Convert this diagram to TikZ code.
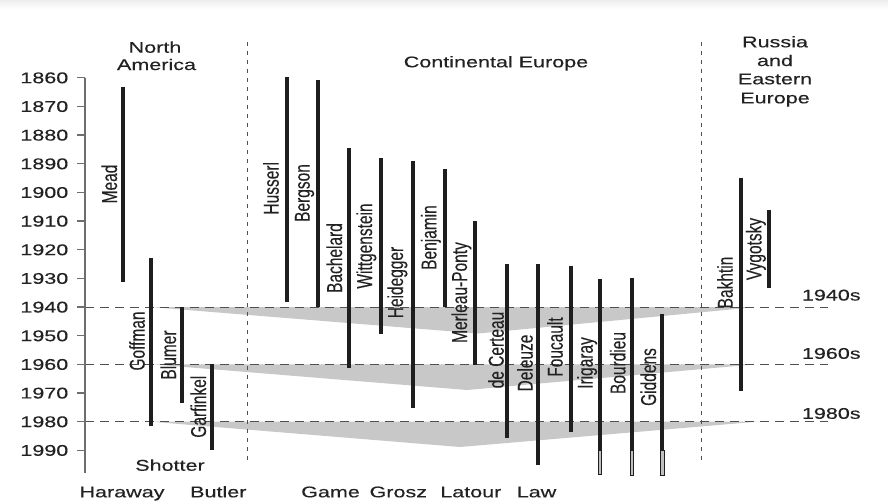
\documentclass[tikz,border=0pt]{standalone}
\usepackage{fontspec}
\setmainfont{Liberation Sans}
\newfontfamily\hfont[FakeStretch=1.39,FakeBold=0.25]{Liberation Sans}
\newfontfamily\vfont[FakeStretch=0.72,FakeBold=0.15]{Liberation Sans}
\definecolor{ink}{HTML}{1E1E1E}
\definecolor{txt}{HTML}{222222}
\definecolor{band}{RGB}{200,200,200}
\definecolor{axisc}{HTML}{6E6E6E}
\definecolor{dashc}{HTML}{505050}
\begin{document}
\begin{tikzpicture}[x=1pt,y=-1pt,
  hlab/.style={font=\hfont\fontsize{15.5}{18}\selectfont, text=txt, inner sep=0pt},
  vlab/.style={font=\vfont\fontsize{21.5}{24}\selectfont, text=txt, inner sep=0pt, rotate=90, anchor=base},
  life/.style={line width=4pt, draw=ink},
  open/.style={fill=gray!50, draw=ink, line width=0.9pt},
  decade/.style={draw=dashc, line width=0.8pt, dash pattern=on 9pt off 6pt},
  region/.style={draw=dashc, line width=0.9pt, dash pattern=on 4pt off 5pt},
  wedge/.style={fill=band, draw=none}]
% canvas
\fill[white] (0,0) rectangle (888,501);
\useasboundingbox (0,0) rectangle (888,501);
\shade[top color=gray!14, bottom color=white] (0,0) rectangle (888,9);

% grey bands
\fill[wedge] (150,307) -- (757,307) -- (478,333.5) -- cycle;
\fill[wedge] (152,364.3) -- (755,364.3) -- (467,390) -- cycle;
\fill[wedge] (150,421.6) -- (758,421.6) -- (460,447) -- cycle;

% decade lines
\draw[decade] (85,307) -- (828,307);
\draw[decade] (85,364.3) -- (828,364.3);
\draw[decade] (85,421.6) -- (828,421.6);

% region separators
\draw[region] (247,41.5) -- (247,463);
\draw[region] (701.7,41.5) -- (701.7,463);

% axis
\draw[axisc, line width=1.3pt] (85,77.7) -- (85,473);
\foreach \k in {0,...,13}{
  \pgfmathsetmacro{\yy}{77.7+28.66*\k}
  \pgfmathtruncatemacro{\yr}{1860+10*\k}
  \draw[axisc, line width=1.1pt] (77,\yy) -- (85,\yy);
  \node[hlab, anchor=base east] (y\yr) at (68.5,\yy+5.5) {\yr};
}

% life lines
\draw[life] (123.3,86.7) -- (123.3,281.7);
\draw[life] (151,257.7) -- (151,426);
\draw[life] (181.7,307) -- (181.7,403.3);
\draw[life] (211.7,364.3) -- (211.7,450);
\draw[life] (286.5,76.7) -- (286.5,301.7);
\draw[life] (317.7,80) -- (317.7,306.7);
\draw[life] (349.3,148.3) -- (349.3,368.3);
\draw[life] (380.7,158.3) -- (380.7,334);
\draw[life] (413.3,160.7) -- (413.3,408.3);
\draw[life] (445,168.6) -- (445,306.7);
\draw[life] (475,221.3) -- (475,365);
\draw[life] (506.7,264) -- (506.7,438.3);
\draw[life] (538,264) -- (538,465);
\draw[life] (570.5,265.7) -- (570.5,431.5);
\draw[life] (600,279.3) -- (600,450);
\draw[life] (632,277.7) -- (632,450);
\draw[life] (662.3,314.3) -- (662.3,450);
\draw[life] (741,177.5) -- (741,390.7);
\draw[life] (769.3,209.5) -- (769.3,288);
\filldraw[open] (598.2,450) rectangle (601.8,474.5);
\filldraw[open] (630.2,450) rectangle (633.8,475);
\filldraw[open] (660.5,450) rectangle (664.1,475);

% names
\node[vlab] (mead) at (117,184) {Mead};
\node[vlab] (goffman) at (144.7,341) {Goffman};
\node[vlab] (blumer) at (176,355) {Blumer};
\node[vlab] (garfinkel) at (206,406.7) {Garfinkel};
\node[vlab] (husserl) at (278.7,188.3) {Husserl};
\node[vlab] (bergson) at (309.7,193) {Bergson};
\node[vlab] (bachelard) at (342,258) {Bachelard};
\node[vlab] (wittgenstein) at (372,246) {Wittgenstein};
\node[vlab] (heidegger) at (403,282.5) {Heidegger};
\node[vlab] (benjamin) at (436.4,237.5) {Benjamin};
\node[vlab] (merleau) at (467,292.5) {Merleau-Ponty};
\node[vlab] (certeau) at (503.7,350) {de Certeau};
\node[vlab] (deleuze) at (532.7,363) {Deleuze};
\node[vlab] (foucault) at (562.7,347) {Foucault};
\node[vlab] (irigaray) at (592.7,363) {Irigaray};
\node[vlab] (bourdieu) at (625.4,363) {Bourdieu};
\node[vlab] (giddens) at (656,377) {Giddens};
\node[vlab] (bakhtin) at (732.7,282.5) {Bakhtin};
\node[vlab] (vygotsky) at (761.4,249) {Vygotsky};

% region titles
\node[hlab, anchor=base] (north) at (155,52.7) {North};
\node[hlab, anchor=base] (america) at (156.5,70) {America};
\node[hlab, anchor=base] (cont) at (496,67.3) {Continental Europe};
\node[hlab, anchor=base] (russia) at (775,47.3) {Russia};
\node[hlab, anchor=base] (and) at (775,66) {and};
\node[hlab, anchor=base] (eastern) at (775,84.3) {Eastern};
\node[hlab, anchor=base] (europe) at (775,103.3) {Europe};

% decade labels
\node[hlab, anchor=base west] (d1940) at (801.7,300.5) {1940s};
\node[hlab, anchor=base west] (d1960) at (801.7,358.8) {1960s};
\node[hlab, anchor=base west] (d1980) at (801.7,418.8) {1980s};

% bottom names
\node[hlab, anchor=base] (shotter) at (170,470.7) {Shotter};
\node[hlab, anchor=base] (haraway) at (122,497.3) {Haraway};
\node[hlab, anchor=base] (butler) at (218.3,497.3) {Butler};
\node[hlab, anchor=base] (game) at (330.5,497.3) {Game};
\node[hlab, anchor=base] (grosz) at (398.3,497.3) {Grosz};
\node[hlab, anchor=base] (latour) at (470.8,497.3) {Latour};
\node[hlab, anchor=base] (law) at (536.5,497.3) {Law};
\end{tikzpicture}
\end{document}
